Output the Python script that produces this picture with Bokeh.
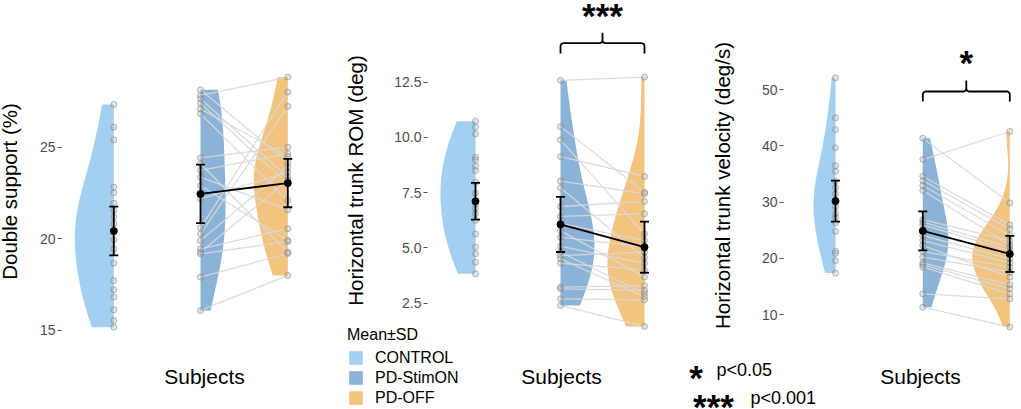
import numpy as np
from bokeh.plotting import figure
from bokeh.models import (Range1d, LinearAxis, FixedTicker, PrintfTickFormatter,
                          Legend, LegendItem)
from bokeh.core.properties import value
from bokeh.embed import file_html
from bokeh.resources import INLINE

# ---------------- data ----------------
groups = ["CONTROL", "PD-StimON", "PD-OFF"]
colors = ["#A3CFF1", "#8BB3D8", "#F2C480"]

# Panel 1: Double support (%)
ds_control = [27.33, 26.09, 25.40, 22.82, 22.51, 21.94, 21.54, 21.18, 20.82, 20.45,
              19.94, 19.45, 18.67, 17.72, 17.22, 16.82, 16.13, 15.54, 15.18]
ds_stimon = [28.13, 27.82, 27.64, 27.40, 27.09, 26.82, 24.42, 24.09, 23.73, 23.36,
             22.91, 22.18, 20.60, 20.27, 19.91, 19.45, 19.27, 19.18, 17.91, 16.09]
ds_off = [24.18, 28.82, 23.36, 23.00, 24.49, 22.09, 25.00, 19.27, 24.64, 21.58,
          19.91, 23.63, 28.00, 27.22, 23.91, 20.55, 23.20, 19.85, 19.20, 18.00]
ds_mean = [20.42, 22.45, 23.04]
ds_sd = [1.33, 1.60, 1.32]
ds_ticks = [15, 20, 25]

# Panel 2: Horizontal trunk ROM (deg)
rom_control = [10.73, 10.46, 10.16, 9.10, 8.98, 8.70, 8.50, 7.97, 7.47, 6.99,
               6.77, 6.54, 6.24, 5.63, 5.03, 4.73, 4.35, 3.82]
rom_stimon = [12.58, 10.49, 9.89, 9.13, 8.02, 7.72, 6.87, 6.42, 6.11, 5.78,
              5.48, 5.06, 4.80, 4.65, 4.50, 4.30, 3.22, 3.14, 2.69, 2.39]
rom_off = [12.73, 7.52, 5.63, 8.23, 7.45, 4.55, 7.10, 6.54, 5.33, 3.67,
           5.03, 4.30, 2.94, 4.80, 2.79, 4.00, 3.29, 3.07, 2.64, 1.44]
rom_mean = [7.11, 6.06, 5.03]
rom_sd = [0.83, 1.25, 1.16]
rom_ticks = [2.5, 5.0, 7.5, 10.0, 12.5]

# Panel 3: Horizontal trunk velocity (deg/s)
vel_control = [52.1, 45.0, 42.9, 39.7, 36.5, 35.5, 33.7, 32.6, 31.5, 30.3,
               29.2, 28.0, 27.3, 26.3, 24.8, 21.3, 20.9, 19.6, 17.4]
vel_stimon = [41.38, 37.59, 34.62, 33.86, 32.97, 32.08, 26.92, 26.45, 25.98, 24.97,
              24.08, 23.19, 22.30, 21.24, 20.23, 19.22, 18.87, 18.44, 13.71, 11.33]
vel_off = [29.89, 42.57, 25.98, 25.27, 24.08, 22.42, 23.19, 22.00, 21.41, 20.82,
           19.93, 19.22, 16.67, 18.44, 17.56, 15.31, 14.60, 13.71, 12.83, 7.80]
vel_mean = [30.2, 24.9, 20.8]
vel_sd = [3.65, 3.48, 3.20]
vel_ticks = [10, 20, 30, 40, 50]

titles = ["Double support (%)", "Horizontal trunk ROM (deg)", "Horizontal trunk velocity (deg/s)"]
xlabel = "Subjects"
significance = [None, "***", "*"]
sig_notes = [("*", "p<0.05"), ("***", "p<0.001")]

# ---------------- layout (pixels on the canvas) ----------------
W, H = 1021, 409
FONT = "Liberation Sans"
BW_ADJUST = 1.4
panels = [
    dict(name="p1", data=(ds_control, ds_stimon, ds_off), mean=ds_mean, sd=ds_sd,
         ticks=ds_ticks, fmt="%d", yr=(10.687, 33.0), bounds=(14.5, 30.66),
         axis_x=61, cat_x=[113.3, 200.0, 287.3], vw=[39, 25, 34], standoff=16,
         subj_x=204),
    dict(name="p2", data=(rom_control, rom_stimon, rom_off), mean=rom_mean, sd=rom_sd,
         ticks=rom_ticks, fmt="%.1f", yr=(-2.323, 16.2), bounds=(2.4, 13.7),
         axis_x=427, cat_x=[475.0, 560.0, 644.0], vw=[35, 34, 37], standoff=24,
         subj_x=561),
    dict(name="p3", data=(vel_control, vel_stimon, vel_off), mean=vel_mean, sd=vel_sd,
         ticks=vel_ticks, fmt="%d", yr=(-6.853, 65.858), bounds=(9.5, 56.44),
         axis_x=783, cat_x=[835.0, 922.3, 1009.3], vw=[22, 25.5, 37.5], standoff=25,
         subj_x=920),
]
sides = [-1, 1, -1]


def half_violin(vals, xc, width, side, n=160):
    v = np.asarray(vals, dtype=float)
    sd = v.std(ddof=1)
    q75, q25 = np.percentile(v, [75, 25])
    lo = min(sd, (q75 - q25) / 1.34)
    bw = BW_ADJUST * 0.9 * lo * len(v) ** -0.2
    grid = np.linspace(v.min(), v.max(), n)
    d = np.exp(-0.5 * ((grid[:, None] - v[None, :]) / bw) ** 2).sum(1)
    d = d / d.max()
    xs = list(xc + side * width * d) + [xc, xc]
    ys = list(grid) + [grid[-1], grid[0]]
    return xs, ys


p = figure(width=W, height=H, x_range=Range1d(0, W), y_range=Range1d(H, 0),
           x_axis_type=None, y_axis_type=None, toolbar_location=None,
           output_backend="svg", min_border=0, outline_line_color=None)
p.xgrid.visible = False
p.ygrid.visible = False
p.extra_y_ranges = {pn["name"]: Range1d(*pn["yr"]) for pn in panels}

legend_renderers = []
for k, pn in enumerate(panels):
    nm = pn["name"]
    cx = pn["cat_x"]
    # violins
    for g in range(3):
        xs, ys = half_violin(pn["data"][g], cx[g], pn["vw"][g], sides[g])
        r = p.patch(xs, ys, y_range_name=nm, fill_color=colors[g], line_color=None)
        if k == 0:
            legend_renderers.append(r)
    # paired lines
    stim, off = pn["data"][1], pn["data"][2]
    p.segment(x0=[cx[1]] * len(stim), y0=stim, x1=[cx[2]] * len(off), y1=off,
              y_range_name=nm, line_color="#d9d9d9", line_width=1.3, line_alpha=0.9)
    # points
    for g in range(3):
        vals = pn["data"][g]
        p.scatter([cx[g]] * len(vals), vals, y_range_name=nm, size=6,
                  fill_color="#9a9a9a", fill_alpha=0.25, line_color="#808080",
                  line_alpha=0.55, line_width=1)
    # mean +- sd
    m = np.array(pn["mean"]); s = np.array(pn["sd"])
    p.segment(x0=cx, y0=m - s, x1=cx, y1=m + s, y_range_name=nm,
              line_color="black", line_width=1.8)
    p.scatter(cx + cx, list(m - s) + list(m + s), y_range_name=nm, marker="dash",
              size=9, line_color="black", line_width=1.8)
    p.line(cx[1:], list(m[1:]), y_range_name=nm, line_color="black", line_width=1.8)
    p.scatter(cx, list(m), y_range_name=nm, size=7, fill_color="black", line_color="black")

    # axis
    ax = LinearAxis(y_range_name=nm, fixed_location=pn["axis_x"],
                    ticker=FixedTicker(ticks=pn["ticks"]),
                    formatter=PrintfTickFormatter(format=pn["fmt"]),
                    axis_label=titles[k], bounds=pn["bounds"])
    ax.axis_line_color = None
    ax.major_tick_line_color = "#4d4d4d"
    ax.major_tick_out = 4
    ax.major_tick_in = 0
    ax.minor_tick_line_color = None
    ax.major_label_standoff = 2
    ax.major_label_text_font = FONT
    ax.major_label_text_font_size = "14px"
    ax.major_label_text_color = "#4d4d4d"
    ax.axis_label_text_font = FONT
    ax.axis_label_text_font_size = "20.5px"
    ax.axis_label_text_font_style = "normal"
    ax.axis_label_text_color = "black"
    ax.axis_label_standoff = pn["standoff"]
    p.add_layout(ax, "left")

# x-axis titles
p.text(x=[pn["subj_x"] for pn in panels], y=[376] * 3, text=[xlabel] * 3,
       text_font=value(FONT), text_font_size="21px", text_align="center",
       text_baseline="middle", text_color="black")


# brackets + significance stars
def bracket(x0, x1, yl, depth, notch, r=2.5):
    xm = (x0 + x1) / 2
    xs = [x0, x0, x0 + 0.8, x0 + r, xm - r, xm - 0.8, xm, xm,
          xm, xm + 0.8, xm + r, x1 - r, x1 - 0.8, x1, x1]
    ys = [yl + depth, yl + r, yl + 0.8, yl, yl, yl - 0.8, yl - r, yl - notch,
          yl - r, yl - 0.8, yl, yl, yl + 0.8, yl + r, yl + depth]
    return xs, ys


STAR_FONT = value(FONT)
STAR_SIZE = "35px"
STAR_DY = 5.5    # glyph centre above the text middle
br = {1: (42.7, 10.3, 10.4, 9.0), 2: (91.0, 10.0, 11.0, 56.0)}
for k, (yl, depth, notch, ystar) in br.items():
    cx = panels[k]["cat_x"]
    xs, ys = bracket(cx[1], cx[2], yl, depth, notch)
    p.line(xs, ys, line_color="black", line_width=1.8)
    p.text(x=[(cx[1] + cx[2]) / 2], y=[ystar + STAR_DY], text=[significance[k]],
           text_font=STAR_FONT, text_font_style="bold",
           text_font_size=STAR_SIZE, text_align="center", text_baseline="middle",
           text_color="black")

# significance notes
p.text(x=[695.5, 713], y=[371 + STAR_DY, 400.5 + STAR_DY],
       text=[sig_notes[0][0], sig_notes[1][0]],
       text_font=STAR_FONT, text_font_style="bold", text_font_size=STAR_SIZE,
       text_align="center", text_baseline="middle", text_color="black")
p.text(x=[716, 750], y=[369.2, 397.8], text=[sig_notes[0][1], sig_notes[1][1]],
       text_font=value(FONT), text_font_size="18px", text_align="left",
       text_baseline="middle", text_color="black")

# legend
legend = Legend(items=[LegendItem(label=groups[g], renderers=[legend_renderers[g]])
                       for g in range(3)],
                title="Mean±SD", location=(347, 2.3), orientation="vertical")
legend.title_text_font = FONT
legend.title_text_font_size = "16px"
legend.title_text_font_style = "normal"
legend.title_text_color = "black"
legend.title_standoff = 5
legend.label_text_font = FONT
legend.label_text_font_size = "16px"
legend.label_text_color = "black"
legend.glyph_width = 17
legend.glyph_height = 17
legend.label_height = 17
legend.label_standoff = 11
legend.spacing = 2
legend.padding = 0
legend.margin = 0
legend.border_line_color = None
legend.background_fill_alpha = 0
p.add_layout(legend)

open("out.html", "w").write(file_html(p, INLINE))
